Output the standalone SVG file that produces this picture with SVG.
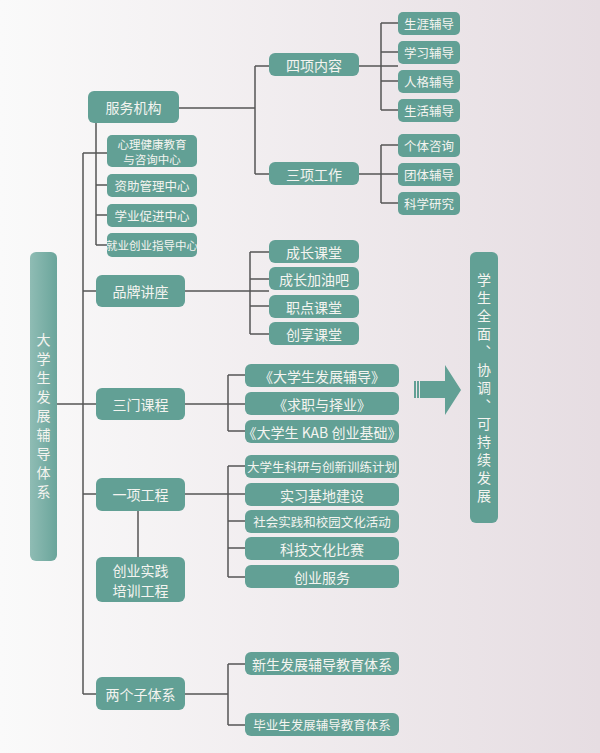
<svg xmlns="http://www.w3.org/2000/svg" width="600" height="753" viewBox="0 0 600 753">
<defs>
<linearGradient id="bg" x1="0" y1="0" x2="1" y2="0"><stop offset="0" stop-color="#fafafa"/><stop offset="1" stop-color="#e6dde2"/></linearGradient>
<linearGradient id="side" x1="0" y1="0" x2="1" y2="0"><stop offset="0" stop-color="#8fbcb4"/><stop offset="1" stop-color="#6aa59b"/></linearGradient>
</defs>
<style>
.b{fill:#62a095}
.t{fill:#f4f4f0;font-family:"Noto Sans CJK SC","Liberation Sans",sans-serif;font-size:14px;text-anchor:middle;dominant-baseline:central}
.s{font-size:12.5px}
.xs{font-size:11.5px}
.m{font-size:11.5px}
.w{font-size:12.5px}
.v{writing-mode:vertical-rl;letter-spacing:5px}
.c path{fill:none;stroke:#555;stroke-width:1.5}
</style>
<rect width="600" height="753" fill="url(#bg)"/>
<g class="c">
<path d="M57 404H83M83 153V694M83 153H107M83 291H96M83 404H96M83 494H96M83 694H96"/>
<path d="M96 123V245M96 185H107M96 215H107M96 245H107"/>
<path d="M179 108H255M255 66V174M255 66H269M255 174H269"/>
<path d="M359 66H398M381 23V110M381 23H398M381 52H398M381 81H398M381 110H398"/>
<path d="M359 174H398M381 145V203M381 145H398M381 203H398"/>
<path d="M185 291H269M250 252V334M250 252H269M250 279H269M250 306H269M250 334H269"/>
<path d="M185 404H245M228 375V431M228 375H245M228 431H245"/>
<path d="M185 494H245M228 466V577M228 466H245M228 521H245M228 548H245M228 577H245"/>
<path d="M138 511V557"/>
<path d="M185 694H228M228 664V725M228 664H245M228 725H245"/>
</g>
<g id="root"><rect x="30" y="252" width="27" height="309" rx="6" fill="url(#side)"/><text class="t v" x="43.5" y="418">大学生发展辅导体系</text></g>
<g id="goal"><rect x="470" y="252" width="28" height="271" rx="6" class="b"/><text class="t v" x="484" y="390" style="letter-spacing:4px">学生全面、协调、可持续发展</text></g>
<g id="arrow"><path d="M420 381H445V365L461 390L445 415V398H420Z" class="b"/><rect x="414" y="381" width="2" height="17" class="b"/><rect x="417" y="381" width="2" height="17" class="b"/></g>
<g id="n1"><rect x="88" y="91" width="91" height="32" rx="6" class="b"/><text class="t" x="133.5" y="107">服务机构</text></g>
<g id="n1a"><rect x="107" y="135" width="90" height="32" rx="5" class="b"/><text class="t m" x="152" y="144">心理健康教育</text><text class="t m" x="152" y="158.5">与咨询中心</text></g>
<g id="n1b"><rect x="107" y="174" width="90" height="23" rx="5" class="b"/><text class="t s" x="152" y="185.5">资助管理中心</text></g>
<g id="n1c"><rect x="107" y="204" width="90" height="23" rx="5" class="b"/><text class="t s" x="152" y="215.5">学业促进中心</text></g>
<g id="n1d"><rect x="107" y="233" width="90" height="24" rx="5" class="b"/><text class="t xs" x="152" y="245">就业创业指导中心</text></g>
<g id="n2"><rect x="269" y="53" width="90" height="23" rx="6" class="b"/><text class="t" x="314" y="64.5">四项内容</text></g>
<g id="n3"><rect x="269" y="162" width="90" height="23" rx="6" class="b"/><text class="t" x="314" y="173.5">三项工作</text></g>
<g id="n2a"><rect x="398" y="12" width="62" height="23" rx="5" class="b"/><text class="t s" x="429" y="23.5">生涯辅导</text></g>
<g id="n2b"><rect x="398" y="41" width="62" height="23" rx="5" class="b"/><text class="t s" x="429" y="52.5">学习辅导</text></g>
<g id="n2c"><rect x="398" y="70" width="62" height="23" rx="5" class="b"/><text class="t s" x="429" y="81.5">人格辅导</text></g>
<g id="n2d"><rect x="398" y="99" width="62" height="23" rx="5" class="b"/><text class="t s" x="429" y="110.5">生活辅导</text></g>
<g id="n3a"><rect x="398" y="134" width="62" height="23" rx="5" class="b"/><text class="t s" x="429" y="145.5">个体咨询</text></g>
<g id="n3b"><rect x="398" y="163" width="62" height="23" rx="5" class="b"/><text class="t s" x="429" y="174.5">团体辅导</text></g>
<g id="n3c"><rect x="398" y="192" width="62" height="23" rx="5" class="b"/><text class="t s" x="429" y="203.5">科学研究</text></g>
<g id="n4"><rect x="96" y="275" width="89" height="32" rx="6" class="b"/><text class="t" x="140.5" y="291">品牌讲座</text></g>
<g id="n4a"><rect x="269" y="240" width="90" height="23" rx="6" class="b"/><text class="t" x="314" y="251.5">成长课堂</text></g>
<g id="n4b"><rect x="269" y="267" width="90" height="23" rx="6" class="b"/><text class="t" x="314" y="278.5">成长加油吧</text></g>
<g id="n4c"><rect x="269" y="295" width="90" height="23" rx="6" class="b"/><text class="t" x="314" y="306.5">职点课堂</text></g>
<g id="n4d"><rect x="269" y="322" width="90" height="23" rx="6" class="b"/><text class="t" x="314" y="333.5">创享课堂</text></g>
<g id="n5"><rect x="96" y="388" width="89" height="32" rx="6" class="b"/><text class="t" x="140.5" y="404">三门课程</text></g>
<g id="n5a"><rect x="245" y="364" width="154" height="23" rx="6" class="b"/><text class="t" x="322" y="375.5">《大学生发展辅导》</text></g>
<g id="n5b"><rect x="245" y="392" width="154" height="23" rx="6" class="b"/><text class="t" x="322" y="403.5">《求职与择业》</text></g>
<g id="n5c"><rect x="245" y="420" width="154" height="23" rx="6" class="b"/><text class="t" x="322" y="431.5">《大学生 KAB 创业基础》</text></g>
<g id="n6"><rect x="96" y="478" width="89" height="33" rx="6" class="b"/><text class="t" x="140.5" y="494">一项工程</text></g>
<g id="n6a"><rect x="245" y="455" width="154" height="23" rx="6" class="b"/><text class="t w" x="322" y="466.5">大学生科研与创新训练计划</text></g>
<g id="n6b"><rect x="245" y="483" width="154" height="23" rx="6" class="b"/><text class="t" x="322" y="494.5">实习基地建设</text></g>
<g id="n6c"><rect x="245" y="510" width="154" height="23" rx="6" class="b"/><text class="t w" x="322" y="521.5">社会实践和校园文化活动</text></g>
<g id="n6d"><rect x="245" y="537" width="154" height="23" rx="6" class="b"/><text class="t" x="322" y="548.5">科技文化比赛</text></g>
<g id="n6e"><rect x="245" y="565" width="154" height="23" rx="6" class="b"/><text class="t" x="322" y="576.5">创业服务</text></g>
<g id="n7"><rect x="96" y="557" width="89" height="45" rx="6" class="b"/><text class="t" x="140.5" y="569.5">创业实践</text><text class="t" x="140.5" y="589.5">培训工程</text></g>
<g id="n8"><rect x="96" y="677" width="89" height="33" rx="6" class="b"/><text class="t" x="140.5" y="693.5">两个子体系</text></g>
<g id="n8a"><rect x="245" y="652" width="154" height="23" rx="6" class="b"/><text class="t" x="322" y="663.5">新生发展辅导教育体系</text></g>
<g id="n8b"><rect x="245" y="713" width="154" height="23" rx="6" class="b"/><text class="t w" x="322" y="724.5">毕业生发展辅导教育体系</text></g>
</svg>
